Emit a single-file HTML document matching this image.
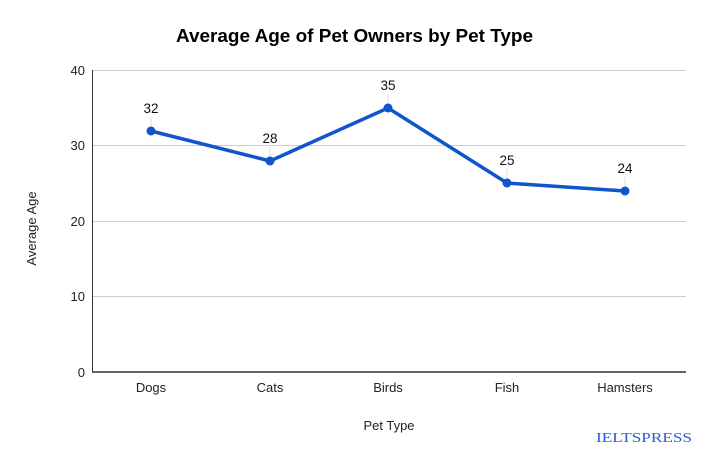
<!DOCTYPE html>
<html>
<head>
<meta charset="utf-8">
<style>
  html,body{margin:0;padding:0;background:#fff;}
  svg{display:block;font-family:"Liberation Sans",Arial,sans-serif;}
</style>
</head>
<body>
<svg width="708" height="457" viewBox="0 0 708 457" xmlns="http://www.w3.org/2000/svg">
  <rect width="708" height="457" fill="#ffffff"/>
  <!-- title -->
  <text x="354.5" y="42" text-anchor="middle" font-size="18" font-weight="bold" fill="#000" textLength="357" lengthAdjust="spacingAndGlyphs">Average Age of Pet Owners by Pet Type</text>

  <!-- gridlines -->
  <g stroke="#cccccc" stroke-width="1">
    <line x1="92" y1="70.5" x2="686" y2="70.5"/>
    <line x1="92" y1="145.5" x2="686" y2="145.5"/>
    <line x1="92" y1="221.5" x2="686" y2="221.5"/>
    <line x1="92" y1="296.5" x2="686" y2="296.5"/>
  </g>
  <!-- axes -->
  <line x1="92.5" y1="70" x2="92.5" y2="372" stroke="#333" stroke-width="1"/>
  <line x1="92" y1="372" x2="686" y2="372" stroke="#333" stroke-width="1.5"/>

  <!-- y tick labels -->
  <g font-size="13" fill="#222" text-anchor="end">
    <text x="85" y="75">40</text>
    <text x="85" y="150">30</text>
    <text x="85" y="226">20</text>
    <text x="85" y="301">10</text>
    <text x="85" y="377">0</text>
  </g>

  <!-- x tick labels -->
  <g font-size="13" fill="#222" text-anchor="middle">
    <text x="151" y="392">Dogs</text>
    <text x="270" y="392">Cats</text>
    <text x="388" y="392">Birds</text>
    <text x="507" y="392">Fish</text>
    <text x="625" y="392">Hamsters</text>
  </g>

  <!-- axis titles -->
  <text x="389" y="430" font-size="13" fill="#222" text-anchor="middle">Pet Type</text>
  <text transform="translate(36,228.5) rotate(-90)" font-size="13" fill="#222" text-anchor="middle">Average Age</text>

  <!-- leader lines -->
  <g stroke="#dddddd" stroke-width="1">
    <line x1="151" y1="117" x2="151" y2="131"/>
    <line x1="270" y1="147" x2="270" y2="161"/>
    <line x1="388" y1="94" x2="388" y2="108"/>
    <line x1="507" y1="169" x2="507" y2="183"/>
    <line x1="625" y1="177" x2="625" y2="191"/>
  </g>

  <!-- series -->
  <polyline points="151,131 270,161 388,108 507,183 625,191" fill="none" stroke="#1155cc" stroke-width="3.5" stroke-linejoin="round" stroke-linecap="round"/>
  <g fill="#1155cc">
    <circle cx="151" cy="131" r="4.5"/>
    <circle cx="270" cy="161" r="4.5"/>
    <circle cx="388" cy="108" r="4.5"/>
    <circle cx="507" cy="183" r="4.5"/>
    <circle cx="625" cy="191" r="4.5"/>
  </g>

  <!-- data labels -->
  <g font-size="13.5" fill="#111" text-anchor="middle">
    <text x="151" y="113">32</text>
    <text x="270" y="143">28</text>
    <text x="388" y="90">35</text>
    <text x="507" y="165">25</text>
    <text x="625" y="173">24</text>
  </g>

  <!-- watermark -->
  <text x="644" y="442" font-family="'Liberation Serif','DejaVu Serif',serif" font-size="14" fill="#2a5bd7" text-anchor="middle" textLength="96" lengthAdjust="spacingAndGlyphs">IELTSPRESS</text>
</svg>
</body>
</html>
